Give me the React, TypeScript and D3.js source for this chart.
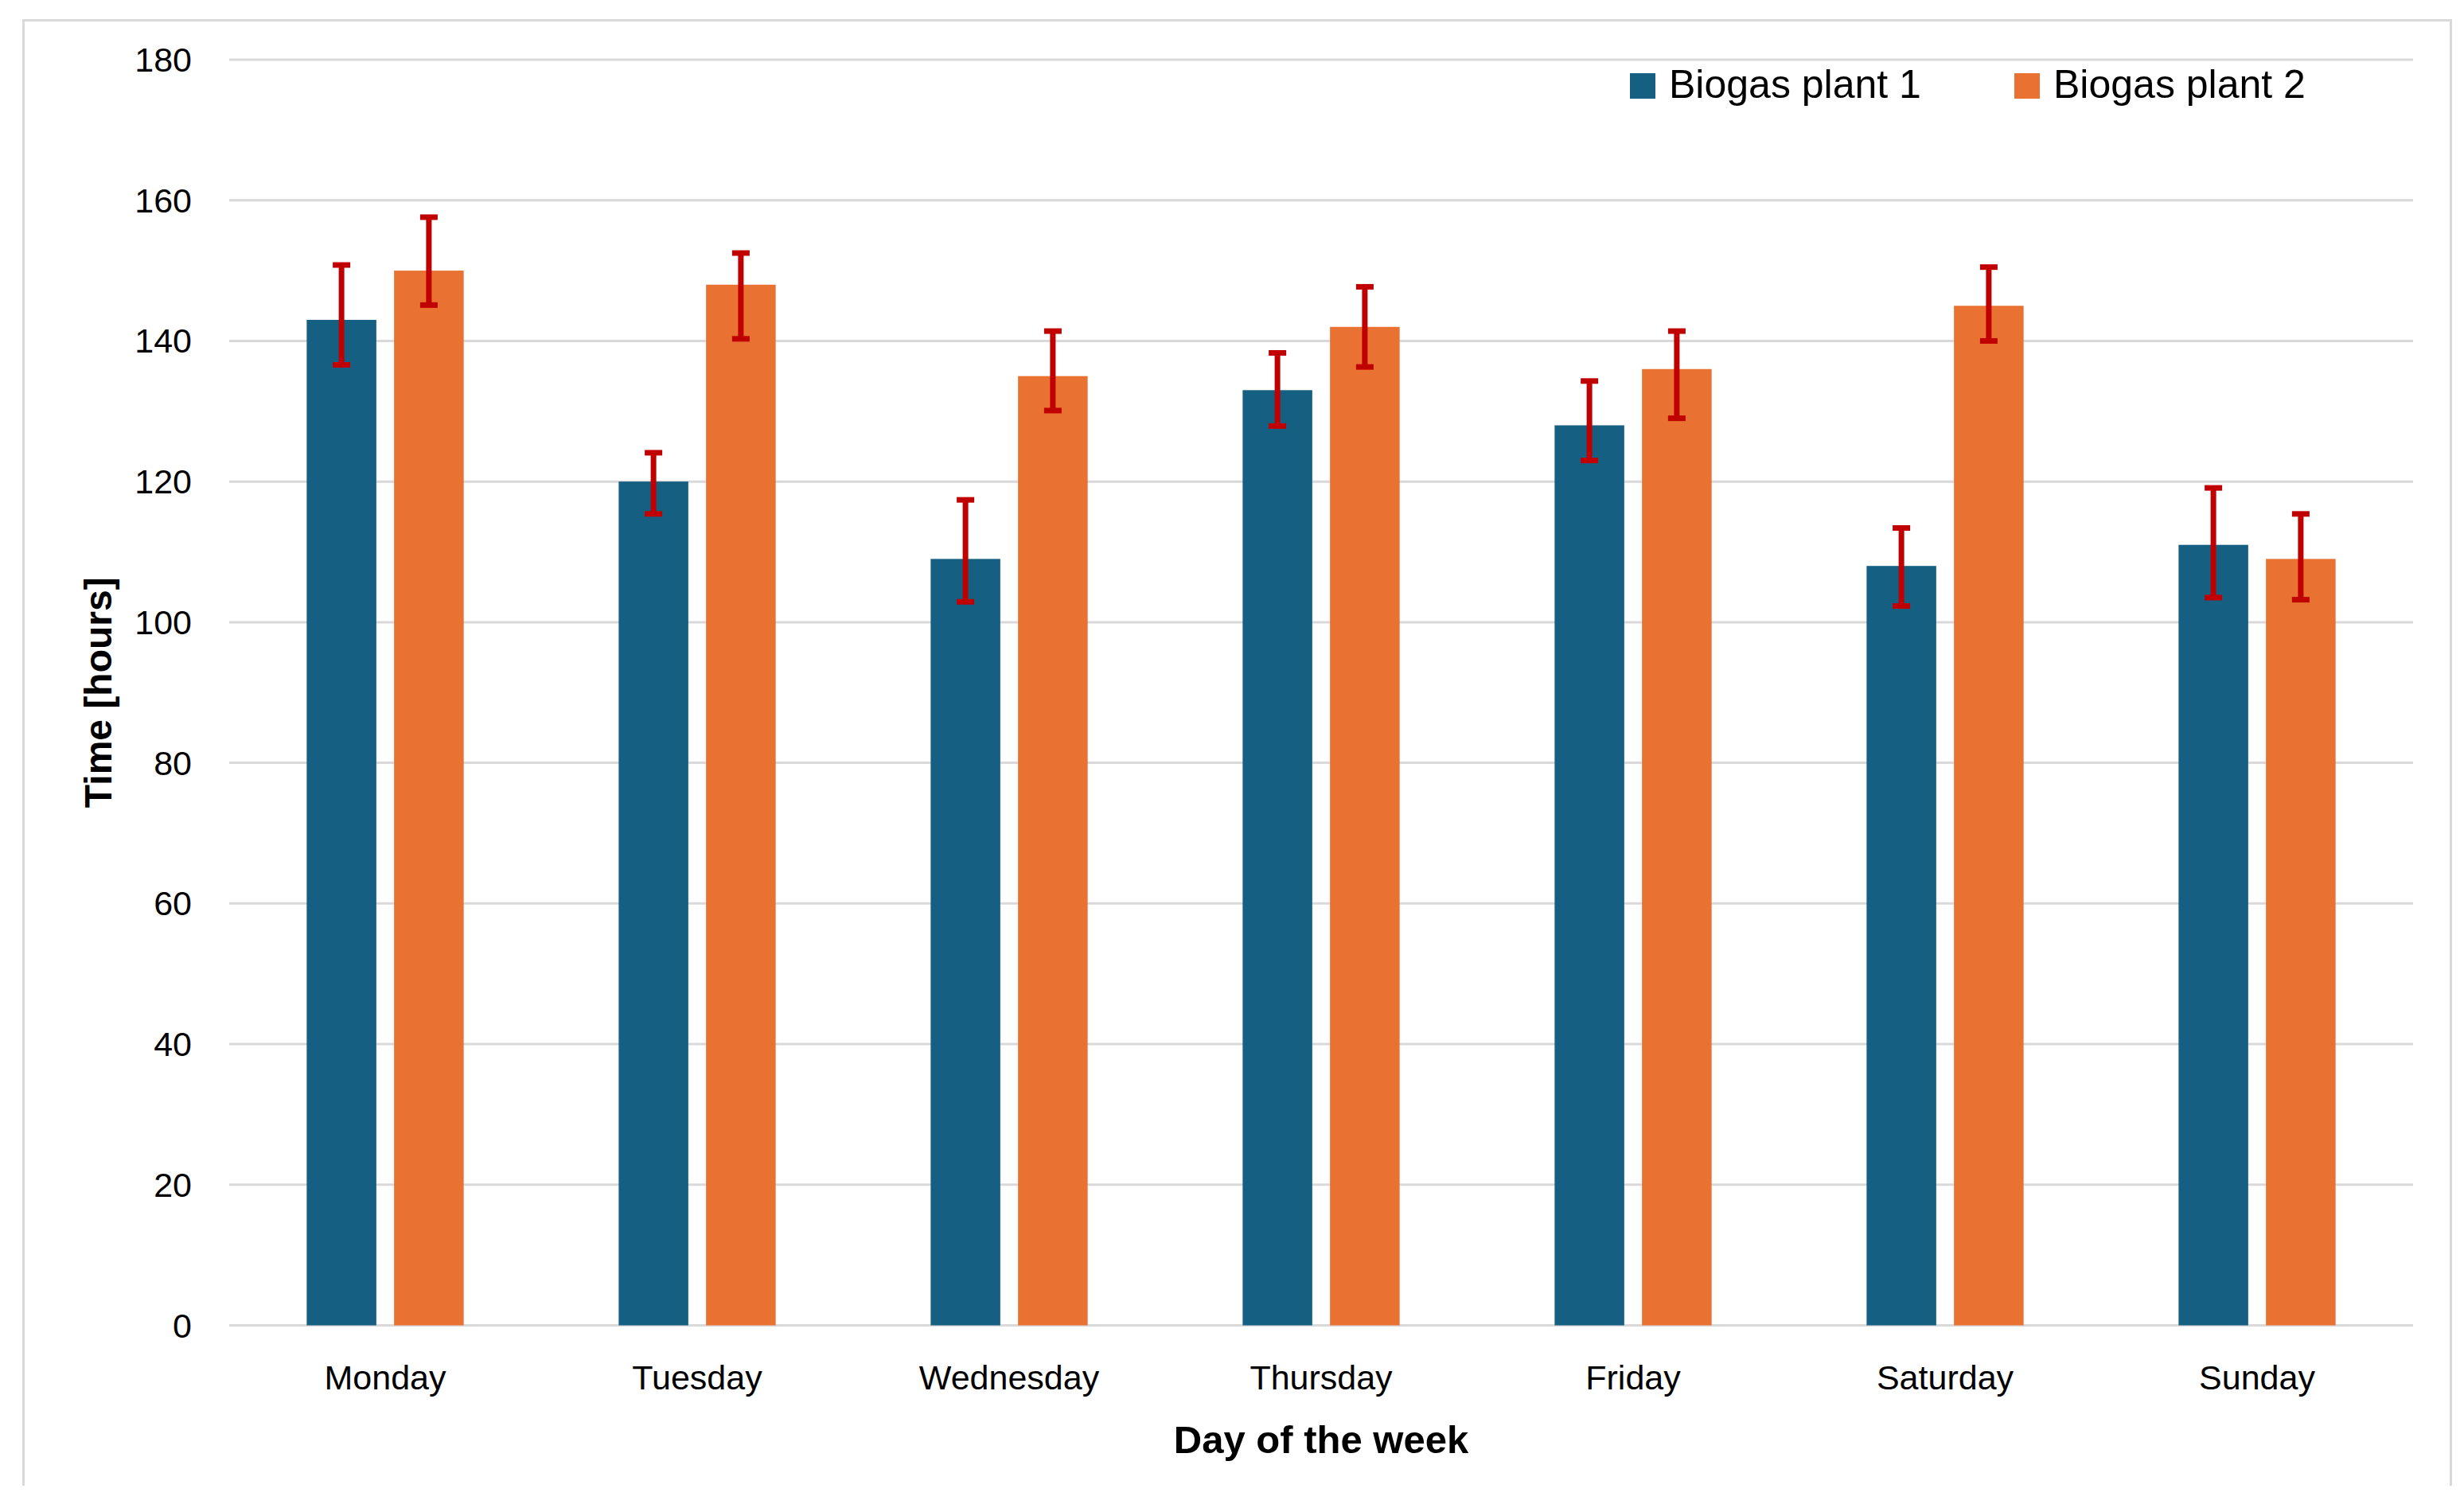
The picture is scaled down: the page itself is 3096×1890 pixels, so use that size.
import { useRef, useEffect } from 'react'
import * as d3 from 'd3';

// days on the x axis
const days = ["Monday", "Tuesday", "Wednesday", "Thursday", "Friday", "Saturday", "Sunday"];
const seriesNames = ["Biogas plant 1", "Biogas plant 2"];

// bar heights (hours)
const plant1 = [143, 120, 109, 133, 128, 108, 111];
const plant2 = [150, 148, 135, 142, 136, 145, 109];

// error bar ends
const plant1High = [150.8, 124.1, 117.4, 138.3, 134.3, 113.4, 119.1];
const plant1Low = [136.6, 115.4, 102.9, 127.9, 123.0, 102.3, 103.5];
const plant2High = [157.6, 152.5, 141.4, 147.7, 141.4, 150.5, 115.4];
const plant2Low = [145.1, 140.3, 130.1, 136.3, 129.0, 140.0, 103.2];

const yTicks = [0, 20, 40, 60, 80, 100, 120, 140, 160, 180];

const colors = ["#156082", "#E97132"];
const errColor = "#C00000";
const FONT = "'Liberation Sans', Arial, sans-serif";

function App() {

    const d3Container = useRef(null);

    const width = 3096;
    const height = 1890;

    useEffect(() => {

        const marginLeft = 288;
        const marginRight = 64;   // plot ends at 3032
        const marginTop = 75;
        const plotBottom = 1665.5;

        const svg = d3.select(d3Container.current);
        svg.selectAll("*").remove();

        svg.append("rect")
           .attr("width", width)
           .attr("height", height)
           .attr("fill", "#fff");

        // chart frame (bottom edge is cut off in the original)
        svg.append("path")
           .attr("d", "M29.5,1867 V25.5 H3079.5 V1867")
           .attr("fill", "none")
           .attr("stroke", "#D9D9D9")
           .attr("stroke-width", 3);

        const x = d3.scaleBand()
                    .domain(days)
                    .range([marginLeft, width - marginRight]);

        const x1 = d3.scaleBand()
                     .domain(seriesNames)
                     .range([0, x.bandwidth()])
                     .paddingInner(0.203)
                     .paddingOuter(0.887);

        const y = d3.scaleLinear()
                    .domain([0, 180])
                    .range([plotBottom, marginTop]);

        // gridlines
        svg.append("g")
           .selectAll("line")
           .data(yTicks)
           .join("line")
           .attr("x1", marginLeft)
           .attr("x2", width - marginRight)
           .attr("y1", d => y(d))
           .attr("y2", d => y(d))
           .attr("stroke", "#D9D9D9")
           .attr("stroke-width", 3);

        // y tick labels
        svg.append("g")
           .selectAll("text")
           .data(yTicks)
           .join("text")
           .attr("x", 241)
           .attr("y", d => y(d))
           .attr("dy", "0.35em")
           .attr("text-anchor", "end")
           .attr("font-family", FONT)
           .attr("font-size", 43)
           .attr("fill", "#000")
           .text(d => d);

        const rows = days.map((day, i) => ({
            day,
            values: [
                { name: seriesNames[0], v: plant1[i], lo: plant1Low[i], hi: plant1High[i], c: colors[0] },
                { name: seriesNames[1], v: plant2[i], lo: plant2Low[i], hi: plant2High[i], c: colors[1] }
            ]
        }));

        const groups = svg.append("g")
                          .selectAll("g")
                          .data(rows)
                          .join("g")
                          .attr("transform", d => `translate(${x(d.day)},0)`);

        groups.selectAll("rect")
              .data(d => d.values)
              .join("rect")
              .attr("x", d => x1(d.name))
              .attr("width", x1.bandwidth())
              .attr("y", d => y(d.v))
              .attr("height", d => y(0) - y(d.v))
              .attr("fill", d => d.c);

        // error bars
        const capHalf = 11;
        const errs = groups.selectAll("g.err")
                           .data(d => d.values)
                           .join("g")
                           .attr("class", "err")
                           .attr("stroke", errColor)
                           .attr("stroke-width", 7);

        errs.append("line")
            .attr("x1", d => x1(d.name) + x1.bandwidth() / 2)
            .attr("x2", d => x1(d.name) + x1.bandwidth() / 2)
            .attr("y1", d => y(d.lo))
            .attr("y2", d => y(d.hi));

        errs.append("line")
            .attr("x1", d => x1(d.name) + x1.bandwidth() / 2 - capHalf)
            .attr("x2", d => x1(d.name) + x1.bandwidth() / 2 + capHalf)
            .attr("y1", d => y(d.hi))
            .attr("y2", d => y(d.hi));

        errs.append("line")
            .attr("x1", d => x1(d.name) + x1.bandwidth() / 2 - capHalf)
            .attr("x2", d => x1(d.name) + x1.bandwidth() / 2 + capHalf)
            .attr("y1", d => y(d.lo))
            .attr("y2", d => y(d.lo));

        // x category labels
        svg.append("g")
           .selectAll("text")
           .data(days)
           .join("text")
           .attr("x", d => x(d) + x.bandwidth() / 2)
           .attr("y", 1746)
           .attr("text-anchor", "middle")
           .attr("font-family", FONT)
           .attr("font-size", 43)
           .attr("fill", "#000")
           .text(d => d);

        // axis titles
        svg.append("text")
           .attr("x", (marginLeft + width - marginRight) / 2)
           .attr("y", 1826)
           .attr("text-anchor", "middle")
           .attr("font-family", FONT)
           .attr("font-weight", "bold")
           .attr("font-size", 49)
           .attr("fill", "#000")
           .text("Day of the week");

        svg.append("text")
           .attr("transform", `translate(140,${(marginTop + plotBottom) / 2}) rotate(-90)`)
           .attr("text-anchor", "middle")
           .attr("font-family", FONT)
           .attr("font-weight", "bold")
           .attr("font-size", 48)
           .attr("fill", "#000")
           .text("Time [hours]");

        // legend
        const legendX = [2048, 2531];
        const legend = svg.append("g")
                          .selectAll("g")
                          .data(seriesNames)
                          .join("g")
                          .attr("transform", (d, i) => `translate(${legendX[i]},92)`);

        legend.append("rect")
              .attr("width", 32)
              .attr("height", 32)
              .attr("fill", (d, i) => colors[i]);

        legend.append("text")
              .attr("x", 49)
              .attr("y", 31)
              .attr("font-family", FONT)
              .attr("font-size", 50)
              .attr("fill", "#000")
              .text(d => d);
    }, []);

    return (
        <svg ref={d3Container}
             width={width}
             height={height}
             style={{ position: 'absolute', left: 0, top: 0 }} />
    )
}

export default App;
